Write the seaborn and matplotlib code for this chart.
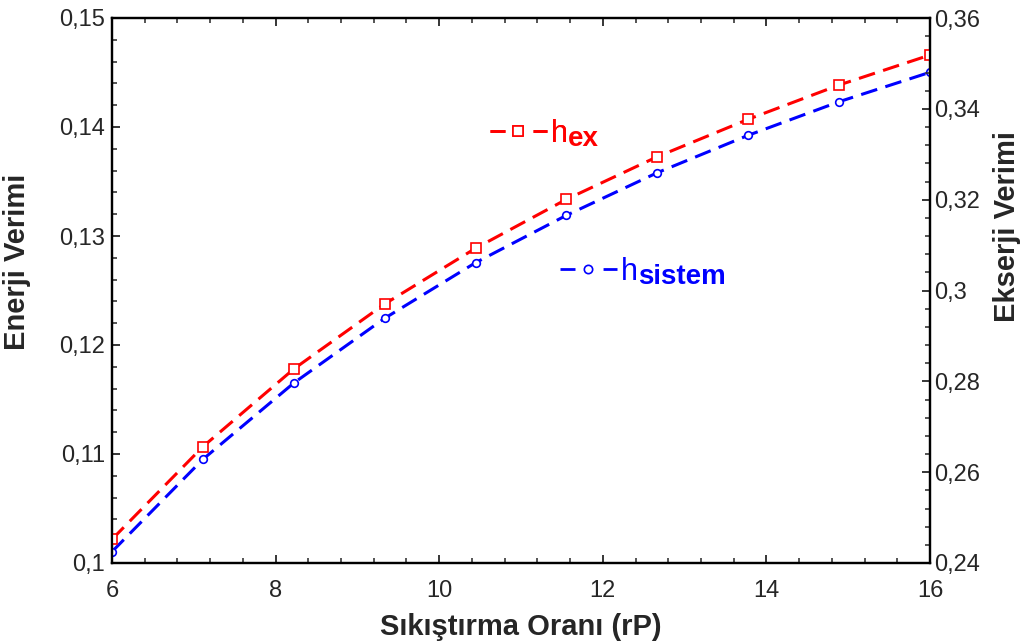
import numpy as np
import pandas as pd
import matplotlib
matplotlib.use("Agg")
import matplotlib.pyplot as plt
from matplotlib.ticker import MultipleLocator, FuncFormatter
from matplotlib.lines import Line2D
import seaborn as sns

# Data
rp = [6.0, 7.111, 8.222, 9.333, 10.444, 11.556, 12.667, 13.778, 14.889, 16.0]
h_sistem = [0.10104, 0.10951, 0.11651, 0.12245, 0.12755, 0.13190, 0.13581, 0.13924, 0.14232, 0.14502]
h_ex = [0.24522, 0.26561, 0.28272, 0.29703, 0.30929, 0.32008, 0.32946, 0.33770, 0.34525, 0.35185]

xlabel = "Sıkıştırma Oranı (rP)"
ylabel_left = "Enerji Verimi"
ylabel_right = "Ekserji Verimi"
leg_main = "h"
leg_sub_ex = "ex"
leg_sub_sis = "sistem"

sns.set_style("ticks")
plt.rcParams['font.family'] = ['Liberation Sans', 'DejaVu Sans']

RED = "#ff0000"
BLUE = "#0000ff"

fig = plt.figure(figsize=(10.27, 6.44), dpi=100)
ax = fig.add_axes([112/1027, 81/644, (930-112)/1027, (563-18)/644])
ax2 = ax.twinx()

df = pd.DataFrame({"rp": rp, "h_sistem": h_sistem, "h_ex": h_ex})

dash = (0, (5.5, 2.8))
sns.lineplot(data=df, x="rp", y="h_sistem", ax=ax, color=BLUE, lw=2.2,
             linestyle=dash, marker="o", markersize=5.5, markerfacecolor="white",
             markeredgecolor=BLUE, markeredgewidth=1.2)
sns.lineplot(data=df, x="rp", y="h_ex", ax=ax2, color=RED, lw=2.2,
             linestyle=dash, marker="s", markersize=7, markerfacecolor="white",
             markeredgecolor=RED, markeredgewidth=1.2)

ax.set_xlim(6, 16)
ax.set_ylim(0.10, 0.15)
ax2.set_ylim(0.24, 0.36)

def comma(v, pos):
    s = ("%.3f" % v).rstrip("0").rstrip(".")
    return s.replace(".", ",")

ax.xaxis.set_major_locator(MultipleLocator(2))
ax.xaxis.set_minor_locator(MultipleLocator(0.4))
ax.yaxis.set_major_locator(MultipleLocator(0.01))
ax.yaxis.set_minor_locator(MultipleLocator(0.002))
ax2.yaxis.set_major_locator(MultipleLocator(0.02))
ax2.yaxis.set_minor_locator(MultipleLocator(0.004))
ax.yaxis.set_major_formatter(FuncFormatter(comma))
ax2.yaxis.set_major_formatter(FuncFormatter(comma))
ax.xaxis.set_major_formatter(FuncFormatter(lambda v, p: "%d" % v))

for a in (ax, ax2):
    a.tick_params(which="major", direction="in", length=6, width=1.3, labelsize=17)
    a.tick_params(which="minor", direction="in", length=3.5, width=1.1)
    for s in a.spines.values():
        s.set_linewidth(1.6)
        s.set_color("black")
ax.tick_params(axis="x", which="both", top=True, pad=12)
ax.tick_params(axis="y", which="both", pad=5)
ax2.tick_params(axis="y", which="both", pad=3)

ax.set_xlabel(xlabel, fontsize=21, fontweight="bold", labelpad=8)
ax.set_ylabel(ylabel_left, fontsize=21, fontweight="bold", labelpad=20, y=0.552)
ax2.set_ylabel(ylabel_right, fontsize=21, fontweight="bold", labelpad=9, y=0.618)

# legend-like labels
hdash = (0, (5.4, 10.1))
h1 = Line2D([], [], color=RED, lw=2.0, linestyle=hdash, marker="s", markersize=6.5,
            markerfacecolor="white", markeredgewidth=1.2)
h2 = Line2D([], [], color=BLUE, lw=2.0, linestyle=hdash, marker="o", markersize=6,
            markerfacecolor="white", markeredgewidth=1.2)
legkw = dict(loc="center left", frameon=False, fontsize=22, handlelength=1.86,
             handletextpad=0.12, borderpad=0, borderaxespad=0)
leg1 = fig.legend([h1], [leg_main], bbox_to_anchor=(490/1027, 1 - 134/644),
                  labelcolor=RED, **legkw)
fig.add_artist(leg1)
leg2 = fig.legend([h2], [leg_main], bbox_to_anchor=(560/1027, 1 - 272/644),
                  labelcolor=BLUE, **legkw)
leg1.set_zorder(5)
leg2.set_zorder(5)

for leg, sub, col in ((leg1, leg_sub_ex, RED), (leg2, leg_sub_sis, BLUE)):
    ann = plt.Annotation(sub, xy=(1, 0), xycoords=leg.get_texts()[0],
                         xytext=(0.5, 2.5), textcoords="offset points",
                         ha="left", va="baseline", fontsize=20,
                         fontweight="bold", color=col)
    ann.set_zorder(20)
    fig.add_artist(ann)

fig.savefig("out.png", dpi=100)
